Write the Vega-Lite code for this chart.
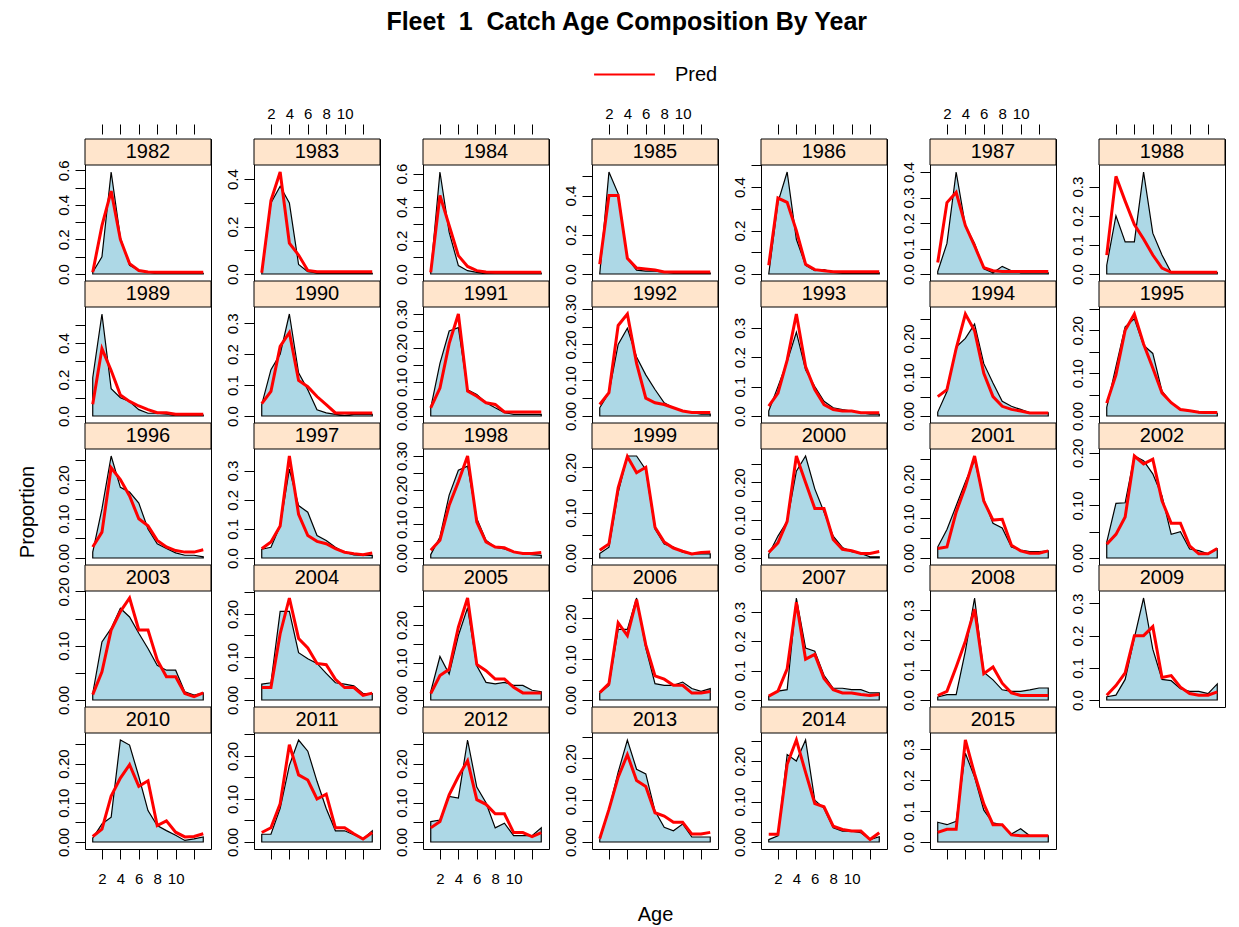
{
"$schema": "https://vega.github.io/schema/vega-lite/v6.json",
"padding": {"left": 17, "top": 10, "right": 5, "bottom": 1},
"background": "white",
"title": {"text": "Fleet\u00a0\u00a01\u00a0\u00a0Catch Age Composition By Year", "fontSize": 25, "fontWeight": "bold", "font": "Liberation Sans", "color": "black", "anchor": "middle", "offset": 8, "dx": 5},
"datasets": {"d": [
{"year":1982,"age":1,"obs":0.01,"pred":0.01},{"year":1982,"age":2,"obs":0.10,"pred":0.28},{"year":1982,"age":3,"obs":0.59,"pred":0.48},{"year":1982,"age":4,"obs":0.21,"pred":0.2},{"year":1982,"age":5,"obs":0.05,"pred":0.06},{"year":1982,"age":6,"obs":0.02,"pred":0.02},{"year":1982,"age":7,"obs":0.01,"pred":0.012},{"year":1982,"age":8,"obs":0.005,"pred":0.01},{"year":1982,"age":9,"obs":0.004,"pred":0.01},{"year":1982,"age":10,"obs":0.004,"pred":0.01},{"year":1982,"age":11,"obs":0.004,"pred":0.01},{"year":1982,"age":12,"obs":0.004,"pred":0.01},{"year":1982,"age":13,"obs":0.004,"pred":0.01},
{"year":1983,"age":1,"obs":0.0,"pred":0.005},{"year":1983,"age":2,"obs":0.30,"pred":0.31},{"year":1983,"age":3,"obs":0.37,"pred":0.43},{"year":1983,"age":4,"obs":0.30,"pred":0.13},{"year":1983,"age":5,"obs":0.04,"pred":0.08},{"year":1983,"age":6,"obs":0.01,"pred":0.015},{"year":1983,"age":7,"obs":0.005,"pred":0.01},{"year":1983,"age":8,"obs":0.003,"pred":0.01},{"year":1983,"age":9,"obs":0.003,"pred":0.01},{"year":1983,"age":10,"obs":0.003,"pred":0.01},{"year":1983,"age":11,"obs":0.003,"pred":0.01},{"year":1983,"age":12,"obs":0.003,"pred":0.01},{"year":1983,"age":13,"obs":0.003,"pred":0.01},
{"year":1984,"age":1,"obs":0.01,"pred":0.01},{"year":1984,"age":2,"obs":0.61,"pred":0.47},{"year":1984,"age":3,"obs":0.25,"pred":0.29},{"year":1984,"age":4,"obs":0.05,"pred":0.11},{"year":1984,"age":5,"obs":0.02,"pred":0.045},{"year":1984,"age":6,"obs":0.01,"pred":0.02},{"year":1984,"age":7,"obs":0.005,"pred":0.012},{"year":1984,"age":8,"obs":0.005,"pred":0.01},{"year":1984,"age":9,"obs":0.005,"pred":0.01},{"year":1984,"age":10,"obs":0.005,"pred":0.01},{"year":1984,"age":11,"obs":0.005,"pred":0.01},{"year":1984,"age":12,"obs":0.005,"pred":0.01},{"year":1984,"age":13,"obs":0.005,"pred":0.01},
{"year":1985,"age":1,"obs":0.0,"pred":0.05},{"year":1985,"age":2,"obs":0.52,"pred":0.40},{"year":1985,"age":3,"obs":0.41,"pred":0.40},{"year":1985,"age":4,"obs":0.08,"pred":0.08},{"year":1985,"age":5,"obs":0.02,"pred":0.03},{"year":1985,"age":6,"obs":0.015,"pred":0.025},{"year":1985,"age":7,"obs":0.015,"pred":0.02},{"year":1985,"age":8,"obs":0.01,"pred":0.01},{"year":1985,"age":9,"obs":0.005,"pred":0.01},{"year":1985,"age":10,"obs":0.005,"pred":0.01},{"year":1985,"age":11,"obs":0.005,"pred":0.01},{"year":1985,"age":12,"obs":0.005,"pred":0.01},{"year":1985,"age":13,"obs":0.005,"pred":0.01},
{"year":1986,"age":1,"obs":0.0,"pred":0.04},{"year":1986,"age":2,"obs":0.33,"pred":0.35},{"year":1986,"age":3,"obs":0.47,"pred":0.33},{"year":1986,"age":4,"obs":0.16,"pred":0.2},{"year":1986,"age":5,"obs":0.04,"pred":0.045},{"year":1986,"age":6,"obs":0.015,"pred":0.02},{"year":1986,"age":7,"obs":0.02,"pred":0.015},{"year":1986,"age":8,"obs":0.007,"pred":0.01},{"year":1986,"age":9,"obs":0.005,"pred":0.01},{"year":1986,"age":10,"obs":0.005,"pred":0.01},{"year":1986,"age":11,"obs":0.005,"pred":0.01},{"year":1986,"age":12,"obs":0.005,"pred":0.01},{"year":1986,"age":13,"obs":0.005,"pred":0.01},
{"year":1987,"age":1,"obs":0.01,"pred":0.045},{"year":1987,"age":2,"obs":0.12,"pred":0.28},{"year":1987,"age":3,"obs":0.40,"pred":0.32},{"year":1987,"age":4,"obs":0.19,"pred":0.19},{"year":1987,"age":5,"obs":0.12,"pred":0.11},{"year":1987,"age":6,"obs":0.02,"pred":0.025},{"year":1987,"age":7,"obs":0.005,"pred":0.013},{"year":1987,"age":8,"obs":0.03,"pred":0.01},{"year":1987,"age":9,"obs":0.013,"pred":0.01},{"year":1987,"age":10,"obs":0.005,"pred":0.01},{"year":1987,"age":11,"obs":0.005,"pred":0.01},{"year":1987,"age":12,"obs":0.005,"pred":0.01},{"year":1987,"age":13,"obs":0.005,"pred":0.01},
{"year":1988,"age":1,"obs":0.03,"pred":0.065},{"year":1988,"age":2,"obs":0.2,"pred":0.335},{"year":1988,"age":3,"obs":0.11,"pred":0.25},{"year":1988,"age":4,"obs":0.11,"pred":0.17},{"year":1988,"age":5,"obs":0.35,"pred":0.12},{"year":1988,"age":6,"obs":0.14,"pred":0.065},{"year":1988,"age":7,"obs":0.065,"pred":0.02},{"year":1988,"age":8,"obs":0.005,"pred":0.006},{"year":1988,"age":9,"obs":0.005,"pred":0.006},{"year":1988,"age":10,"obs":0.005,"pred":0.006},{"year":1988,"age":11,"obs":0.005,"pred":0.006},{"year":1988,"age":12,"obs":0.005,"pred":0.006},{"year":1988,"age":13,"obs":0.005,"pred":0.006},
{"year":1989,"age":1,"obs":0.21,"pred":0.065},{"year":1989,"age":2,"obs":0.56,"pred":0.37},{"year":1989,"age":3,"obs":0.15,"pred":0.25},{"year":1989,"age":4,"obs":0.1,"pred":0.115},{"year":1989,"age":5,"obs":0.08,"pred":0.08},{"year":1989,"age":6,"obs":0.035,"pred":0.055},{"year":1989,"age":7,"obs":0.015,"pred":0.035},{"year":1989,"age":8,"obs":0.015,"pred":0.018},{"year":1989,"age":9,"obs":0.01,"pred":0.018},{"year":1989,"age":10,"obs":0.005,"pred":0.01},{"year":1989,"age":11,"obs":0.005,"pred":0.01},{"year":1989,"age":12,"obs":0.005,"pred":0.01},{"year":1989,"age":13,"obs":0.005,"pred":0.01},
{"year":1990,"age":1,"obs":0.037,"pred":0.04},{"year":1990,"age":2,"obs":0.15,"pred":0.08},{"year":1990,"age":3,"obs":0.2,"pred":0.225},{"year":1990,"age":4,"obs":0.33,"pred":0.27},{"year":1990,"age":5,"obs":0.14,"pred":0.115},{"year":1990,"age":6,"obs":0.085,"pred":0.095},{"year":1990,"age":7,"obs":0.02,"pred":0.063},{"year":1990,"age":8,"obs":0.01,"pred":0.037},{"year":1990,"age":9,"obs":0.005,"pred":0.01},{"year":1990,"age":10,"obs":0.002,"pred":0.01},{"year":1990,"age":11,"obs":0.005,"pred":0.01},{"year":1990,"age":12,"obs":0.005,"pred":0.01},{"year":1990,"age":13,"obs":0.005,"pred":0.01},
{"year":1991,"age":1,"obs":0.024,"pred":0.024},{"year":1991,"age":2,"obs":0.155,"pred":0.082},{"year":1991,"age":3,"obs":0.25,"pred":0.213},{"year":1991,"age":4,"obs":0.26,"pred":0.30},{"year":1991,"age":5,"obs":0.077,"pred":0.073},{"year":1991,"age":6,"obs":0.063,"pred":0.058},{"year":1991,"age":7,"obs":0.039,"pred":0.039},{"year":1991,"age":8,"obs":0.024,"pred":0.034},{"year":1991,"age":9,"obs":0.01,"pred":0.012},{"year":1991,"age":10,"obs":0.005,"pred":0.012},{"year":1991,"age":11,"obs":0.005,"pred":0.012},{"year":1991,"age":12,"obs":0.005,"pred":0.012},{"year":1991,"age":13,"obs":0.005,"pred":0.012},
{"year":1992,"age":1,"obs":0.023,"pred":0.032},{"year":1992,"age":2,"obs":0.065,"pred":0.065},{"year":1992,"age":3,"obs":0.2,"pred":0.253},{"year":1992,"age":4,"obs":0.245,"pred":0.285},{"year":1992,"age":5,"obs":0.165,"pred":0.147},{"year":1992,"age":6,"obs":0.115,"pred":0.05},{"year":1992,"age":7,"obs":0.074,"pred":0.037},{"year":1992,"age":8,"obs":0.037,"pred":0.032},{"year":1992,"age":9,"obs":0.023,"pred":0.023},{"year":1992,"age":10,"obs":0.014,"pred":0.014},{"year":1992,"age":11,"obs":0.01,"pred":0.01},{"year":1992,"age":12,"obs":0.005,"pred":0.01},{"year":1992,"age":13,"obs":0.005,"pred":0.01},
{"year":1993,"age":1,"obs":0.017,"pred":0.034},{"year":1993,"age":2,"obs":0.1,"pred":0.078},{"year":1993,"age":3,"obs":0.185,"pred":0.19},{"year":1993,"age":4,"obs":0.285,"pred":0.347},{"year":1993,"age":5,"obs":0.157,"pred":0.168},{"year":1993,"age":6,"obs":0.1,"pred":0.09},{"year":1993,"age":7,"obs":0.05,"pred":0.039},{"year":1993,"age":8,"obs":0.028,"pred":0.022},{"year":1993,"age":9,"obs":0.022,"pred":0.017},{"year":1993,"age":10,"obs":0.017,"pred":0.017},{"year":1993,"age":11,"obs":0.011,"pred":0.011},{"year":1993,"age":12,"obs":0.006,"pred":0.011},{"year":1993,"age":13,"obs":0.006,"pred":0.011},
{"year":1994,"age":1,"obs":0.01,"pred":0.05},{"year":1994,"age":2,"obs":0.063,"pred":0.068},{"year":1994,"age":3,"obs":0.178,"pred":0.174},{"year":1994,"age":4,"obs":0.2,"pred":0.263},{"year":1994,"age":5,"obs":0.237,"pred":0.22},{"year":1994,"age":6,"obs":0.135,"pred":0.11},{"year":1994,"age":7,"obs":0.085,"pred":0.05},{"year":1994,"age":8,"obs":0.038,"pred":0.025},{"year":1994,"age":9,"obs":0.025,"pred":0.017},{"year":1994,"age":10,"obs":0.017,"pred":0.013},{"year":1994,"age":11,"obs":0.008,"pred":0.008},{"year":1994,"age":12,"obs":0.008,"pred":0.008},{"year":1994,"age":13,"obs":0.008,"pred":0.008},
{"year":1995,"age":1,"obs":0.02,"pred":0.03},{"year":1995,"age":2,"obs":0.115,"pred":0.096},{"year":1995,"age":3,"obs":0.208,"pred":0.2},{"year":1995,"age":4,"obs":0.227,"pred":0.238},{"year":1995,"age":5,"obs":0.165,"pred":0.168},{"year":1995,"age":6,"obs":0.146,"pred":0.112},{"year":1995,"age":7,"obs":0.058,"pred":0.054},{"year":1995,"age":8,"obs":0.031,"pred":0.031},{"year":1995,"age":9,"obs":0.015,"pred":0.015},{"year":1995,"age":10,"obs":0.012,"pred":0.012},{"year":1995,"age":11,"obs":0.008,"pred":0.009},{"year":1995,"age":12,"obs":0.006,"pred":0.008},{"year":1995,"age":13,"obs":0.006,"pred":0.008},
{"year":1996,"age":1,"obs":0.015,"pred":0.028},{"year":1996,"age":2,"obs":0.125,"pred":0.066},{"year":1996,"age":3,"obs":0.26,"pred":0.23},{"year":1996,"age":4,"obs":0.18,"pred":0.2},{"year":1996,"age":5,"obs":0.168,"pred":0.158},{"year":1996,"age":6,"obs":0.14,"pred":0.1},{"year":1996,"age":7,"obs":0.074,"pred":0.082},{"year":1996,"age":8,"obs":0.036,"pred":0.045},{"year":1996,"age":9,"obs":0.024,"pred":0.028},{"year":1996,"age":10,"obs":0.013,"pred":0.019},{"year":1996,"age":11,"obs":0.007,"pred":0.015},{"year":1996,"age":12,"obs":0.007,"pred":0.015},{"year":1996,"age":13,"obs":0.003,"pred":0.021},
{"year":1997,"age":1,"obs":0.03,"pred":0.032},{"year":1997,"age":2,"obs":0.037,"pred":0.055},{"year":1997,"age":3,"obs":0.11,"pred":0.11},{"year":1997,"age":4,"obs":0.305,"pred":0.35},{"year":1997,"age":5,"obs":0.18,"pred":0.15},{"year":1997,"age":6,"obs":0.157,"pred":0.077},{"year":1997,"age":7,"obs":0.077,"pred":0.057},{"year":1997,"age":8,"obs":0.06,"pred":0.049},{"year":1997,"age":9,"obs":0.037,"pred":0.032},{"year":1997,"age":10,"obs":0.02,"pred":0.02},{"year":1997,"age":11,"obs":0.011,"pred":0.015},{"year":1997,"age":12,"obs":0.009,"pred":0.011},{"year":1997,"age":13,"obs":0.009,"pred":0.017},
{"year":1998,"age":1,"obs":0.01,"pred":0.023},{"year":1998,"age":2,"obs":0.062,"pred":0.052},{"year":1998,"age":3,"obs":0.185,"pred":0.155},{"year":1998,"age":4,"obs":0.258,"pred":0.224},{"year":1998,"age":5,"obs":0.27,"pred":0.3},{"year":1998,"age":6,"obs":0.116,"pred":0.106},{"year":1998,"age":7,"obs":0.052,"pred":0.047},{"year":1998,"age":8,"obs":0.032,"pred":0.032},{"year":1998,"age":9,"obs":0.027,"pred":0.03},{"year":1998,"age":10,"obs":0.018,"pred":0.018},{"year":1998,"age":11,"obs":0.013,"pred":0.013},{"year":1998,"age":12,"obs":0.01,"pred":0.013},{"year":1998,"age":13,"obs":0.008,"pred":0.016},
{"year":1999,"age":1,"obs":0.01,"pred":0.017},{"year":1999,"age":2,"obs":0.024,"pred":0.031},{"year":1999,"age":3,"obs":0.144,"pred":0.155},{"year":1999,"age":4,"obs":0.225,"pred":0.224},{"year":1999,"age":5,"obs":0.225,"pred":0.188},{"year":1999,"age":6,"obs":0.195,"pred":0.2},{"year":1999,"age":7,"obs":0.064,"pred":0.068},{"year":1999,"age":8,"obs":0.031,"pred":0.035},{"year":1999,"age":9,"obs":0.024,"pred":0.022},{"year":1999,"age":10,"obs":0.013,"pred":0.015},{"year":1999,"age":11,"obs":0.009,"pred":0.009},{"year":1999,"age":12,"obs":0.009,"pred":0.012},{"year":1999,"age":13,"obs":0.009,"pred":0.013},
{"year":2000,"age":1,"obs":0.01,"pred":0.015},{"year":2000,"age":2,"obs":0.058,"pred":0.04},{"year":2000,"age":3,"obs":0.097,"pred":0.097},{"year":2000,"age":4,"obs":0.23,"pred":0.27},{"year":2000,"age":5,"obs":0.27,"pred":0.2},{"year":2000,"age":6,"obs":0.183,"pred":0.131},{"year":2000,"age":7,"obs":0.122,"pred":0.131},{"year":2000,"age":8,"obs":0.058,"pred":0.049},{"year":2000,"age":9,"obs":0.028,"pred":0.023},{"year":2000,"age":10,"obs":0.017,"pred":0.019},{"year":2000,"age":11,"obs":0.012,"pred":0.012},{"year":2000,"age":12,"obs":0.003,"pred":0.012},{"year":2000,"age":13,"obs":0.003,"pred":0.017},
{"year":2001,"age":1,"obs":0.028,"pred":0.024},{"year":2001,"age":2,"obs":0.072,"pred":0.028},{"year":2001,"age":3,"obs":0.132,"pred":0.116},{"year":2001,"age":4,"obs":0.192,"pred":0.18},{"year":2001,"age":5,"obs":0.248,"pred":0.258},{"year":2001,"age":6,"obs":0.148,"pred":0.144},{"year":2001,"age":7,"obs":0.088,"pred":0.096},{"year":2001,"age":8,"obs":0.076,"pred":0.098},{"year":2001,"age":9,"obs":0.028,"pred":0.032},{"year":2001,"age":10,"obs":0.02,"pred":0.018},{"year":2001,"age":11,"obs":0.016,"pred":0.012},{"year":2001,"age":12,"obs":0.016,"pred":0.012},{"year":2001,"age":13,"obs":0.018,"pred":0.018},
{"year":2002,"age":1,"obs":0.03,"pred":0.026},{"year":2002,"age":2,"obs":0.104,"pred":0.045},{"year":2002,"age":3,"obs":0.105,"pred":0.078},{"year":2002,"age":4,"obs":0.194,"pred":0.194},{"year":2002,"age":5,"obs":0.185,"pred":0.179},{"year":2002,"age":6,"obs":0.16,"pred":0.188},{"year":2002,"age":7,"obs":0.118,"pred":0.109},{"year":2002,"age":8,"obs":0.045,"pred":0.066},{"year":2002,"age":9,"obs":0.05,"pred":0.066},{"year":2002,"age":10,"obs":0.017,"pred":0.023},{"year":2002,"age":11,"obs":0.014,"pred":0.008},{"year":2002,"age":12,"obs":0.008,"pred":0.008},{"year":2002,"age":13,"obs":0.017,"pred":0.018},
{"year":2003,"age":1,"obs":0.012,"pred":0.01},{"year":2003,"age":2,"obs":0.107,"pred":0.052},{"year":2003,"age":3,"obs":0.132,"pred":0.129},{"year":2003,"age":4,"obs":0.169,"pred":0.163},{"year":2003,"age":5,"obs":0.153,"pred":0.188},{"year":2003,"age":6,"obs":0.123,"pred":0.129},{"year":2003,"age":7,"obs":0.095,"pred":0.129},{"year":2003,"age":8,"obs":0.064,"pred":0.074},{"year":2003,"age":9,"obs":0.055,"pred":0.043},{"year":2003,"age":10,"obs":0.055,"pred":0.043},{"year":2003,"age":11,"obs":0.015,"pred":0.012},{"year":2003,"age":12,"obs":0.009,"pred":0.006},{"year":2003,"age":13,"obs":0.013,"pred":0.013},
{"year":2004,"age":1,"obs":0.037,"pred":0.029},{"year":2004,"age":2,"obs":0.04,"pred":0.029},{"year":2004,"age":3,"obs":0.206,"pred":0.154},{"year":2004,"age":4,"obs":0.206,"pred":0.237},{"year":2004,"age":5,"obs":0.11,"pred":0.143},{"year":2004,"age":6,"obs":0.096,"pred":0.121},{"year":2004,"age":7,"obs":0.085,"pred":0.085},{"year":2004,"age":8,"obs":0.062,"pred":0.082},{"year":2004,"age":9,"obs":0.04,"pred":0.048},{"year":2004,"age":10,"obs":0.037,"pred":0.029},{"year":2004,"age":11,"obs":0.033,"pred":0.029},{"year":2004,"age":12,"obs":0.015,"pred":0.011},{"year":2004,"age":13,"obs":0.015,"pred":0.016},
{"year":2005,"age":1,"obs":0.022,"pred":0.017},{"year":2005,"age":2,"obs":0.116,"pred":0.065},{"year":2005,"age":3,"obs":0.069,"pred":0.082},{"year":2005,"age":4,"obs":0.172,"pred":0.194},{"year":2005,"age":5,"obs":0.246,"pred":0.272},{"year":2005,"age":6,"obs":0.091,"pred":0.095},{"year":2005,"age":7,"obs":0.047,"pred":0.078},{"year":2005,"age":8,"obs":0.043,"pred":0.056},{"year":2005,"age":9,"obs":0.047,"pred":0.056},{"year":2005,"age":10,"obs":0.039,"pred":0.034},{"year":2005,"age":11,"obs":0.039,"pred":0.019},{"year":2005,"age":12,"obs":0.026,"pred":0.019},{"year":2005,"age":13,"obs":0.022,"pred":0.019},
{"year":2006,"age":1,"obs":0.017,"pred":0.018},{"year":2006,"age":2,"obs":0.036,"pred":0.04},{"year":2006,"age":3,"obs":0.173,"pred":0.189},{"year":2006,"age":4,"obs":0.173,"pred":0.158},{"year":2006,"age":5,"obs":0.25,"pred":0.246},{"year":2006,"age":6,"obs":0.127,"pred":0.135},{"year":2006,"age":7,"obs":0.04,"pred":0.059},{"year":2006,"age":8,"obs":0.036,"pred":0.051},{"year":2006,"age":9,"obs":0.036,"pred":0.036},{"year":2006,"age":10,"obs":0.044,"pred":0.036},{"year":2006,"age":11,"obs":0.028,"pred":0.017},{"year":2006,"age":12,"obs":0.021,"pred":0.017},{"year":2006,"age":13,"obs":0.028,"pred":0.021},
{"year":2007,"age":1,"obs":0.013,"pred":0.013},{"year":2007,"age":2,"obs":0.03,"pred":0.03},{"year":2007,"age":3,"obs":0.035,"pred":0.106},{"year":2007,"age":4,"obs":0.347,"pred":0.333},{"year":2007,"age":5,"obs":0.177,"pred":0.139},{"year":2007,"age":6,"obs":0.166,"pred":0.155},{"year":2007,"age":7,"obs":0.084,"pred":0.073},{"year":2007,"age":8,"obs":0.04,"pred":0.035},{"year":2007,"age":9,"obs":0.04,"pred":0.024},{"year":2007,"age":10,"obs":0.035,"pred":0.024},{"year":2007,"age":11,"obs":0.035,"pred":0.019},{"year":2007,"age":12,"obs":0.024,"pred":0.015},{"year":2007,"age":13,"obs":0.024,"pred":0.019},
{"year":2008,"age":1,"obs":0.01,"pred":0.015},{"year":2008,"age":2,"obs":0.018,"pred":0.029},{"year":2008,"age":3,"obs":0.018,"pred":0.11},{"year":2008,"age":4,"obs":0.163,"pred":0.196},{"year":2008,"age":5,"obs":0.34,"pred":0.303},{"year":2008,"age":6,"obs":0.093,"pred":0.088},{"year":2008,"age":7,"obs":0.067,"pred":0.11},{"year":2008,"age":8,"obs":0.034,"pred":0.056},{"year":2008,"age":9,"obs":0.029,"pred":0.024},{"year":2008,"age":10,"obs":0.029,"pred":0.015},{"year":2008,"age":11,"obs":0.034,"pred":0.015},{"year":2008,"age":12,"obs":0.04,"pred":0.015},{"year":2008,"age":13,"obs":0.04,"pred":0.015},
{"year":2009,"age":1,"obs":0.01,"pred":0.015},{"year":2009,"age":2,"obs":0.015,"pred":0.045},{"year":2009,"age":3,"obs":0.064,"pred":0.084},{"year":2009,"age":4,"obs":0.193,"pred":0.2},{"year":2009,"age":5,"obs":0.317,"pred":0.2},{"year":2009,"age":6,"obs":0.158,"pred":0.228},{"year":2009,"age":7,"obs":0.064,"pred":0.07},{"year":2009,"age":8,"obs":0.06,"pred":0.076},{"year":2009,"age":9,"obs":0.035,"pred":0.04},{"year":2009,"age":10,"obs":0.027,"pred":0.02},{"year":2009,"age":11,"obs":0.027,"pred":0.015},{"year":2009,"age":12,"obs":0.02,"pred":0.015},{"year":2009,"age":13,"obs":0.05,"pred":0.025},
{"year":2010,"age":1,"obs":0.01,"pred":0.014},{"year":2010,"age":2,"obs":0.046,"pred":0.033},{"year":2010,"age":3,"obs":0.063,"pred":0.117},{"year":2010,"age":4,"obs":0.26,"pred":0.163},{"year":2010,"age":5,"obs":0.247,"pred":0.197},{"year":2010,"age":6,"obs":0.167,"pred":0.142},{"year":2010,"age":7,"obs":0.08,"pred":0.156},{"year":2010,"age":8,"obs":0.042,"pred":0.042},{"year":2010,"age":9,"obs":0.029,"pred":0.054},{"year":2010,"age":10,"obs":0.017,"pred":0.025},{"year":2010,"age":11,"obs":0.004,"pred":0.013},{"year":2010,"age":12,"obs":0.008,"pred":0.014},{"year":2010,"age":13,"obs":0.013,"pred":0.021},
{"year":2011,"age":1,"obs":0.018,"pred":0.022},{"year":2011,"age":2,"obs":0.018,"pred":0.033},{"year":2011,"age":3,"obs":0.078,"pred":0.089},{"year":2011,"age":4,"obs":0.178,"pred":0.226},{"year":2011,"age":5,"obs":0.237,"pred":0.156},{"year":2011,"age":6,"obs":0.211,"pred":0.144},{"year":2011,"age":7,"obs":0.141,"pred":0.1},{"year":2011,"age":8,"obs":0.078,"pred":0.111},{"year":2011,"age":9,"obs":0.026,"pred":0.033},{"year":2011,"age":10,"obs":0.026,"pred":0.033},{"year":2011,"age":11,"obs":0.017,"pred":0.019},{"year":2011,"age":12,"obs":0.007,"pred":0.007},{"year":2011,"age":13,"obs":0.026,"pred":0.022},
{"year":2012,"age":1,"obs":0.052,"pred":0.036},{"year":2012,"age":2,"obs":0.056,"pred":0.052},{"year":2012,"age":3,"obs":0.116,"pred":0.12},{"year":2012,"age":4,"obs":0.112,"pred":0.167},{"year":2012,"age":5,"obs":0.26,"pred":0.207},{"year":2012,"age":6,"obs":0.14,"pred":0.108},{"year":2012,"age":7,"obs":0.1,"pred":0.096},{"year":2012,"age":8,"obs":0.036,"pred":0.072},{"year":2012,"age":9,"obs":0.048,"pred":0.072},{"year":2012,"age":10,"obs":0.016,"pred":0.024},{"year":2012,"age":11,"obs":0.016,"pred":0.024},{"year":2012,"age":12,"obs":0.016,"pred":0.014},{"year":2012,"age":13,"obs":0.036,"pred":0.024},
{"year":2013,"age":1,"obs":0.005,"pred":0.008},{"year":2013,"age":2,"obs":0.078,"pred":0.078},{"year":2013,"age":3,"obs":0.167,"pred":0.155},{"year":2013,"age":4,"obs":0.244,"pred":0.209},{"year":2013,"age":5,"obs":0.174,"pred":0.147},{"year":2013,"age":6,"obs":0.163,"pred":0.133},{"year":2013,"age":7,"obs":0.074,"pred":0.07},{"year":2013,"age":8,"obs":0.035,"pred":0.062},{"year":2013,"age":9,"obs":0.027,"pred":0.047},{"year":2013,"age":10,"obs":0.043,"pred":0.047},{"year":2013,"age":11,"obs":0.012,"pred":0.019},{"year":2013,"age":12,"obs":0.012,"pred":0.019},{"year":2013,"age":13,"obs":0.012,"pred":0.023},
{"year":2014,"age":1,"obs":0.006,"pred":0.019},{"year":2014,"age":2,"obs":0.015,"pred":0.019},{"year":2014,"age":3,"obs":0.216,"pred":0.192},{"year":2014,"age":4,"obs":0.2,"pred":0.252},{"year":2014,"age":5,"obs":0.252,"pred":0.172},{"year":2014,"age":6,"obs":0.103,"pred":0.095},{"year":2014,"age":7,"obs":0.083,"pred":0.087},{"year":2014,"age":8,"obs":0.035,"pred":0.039},{"year":2014,"age":9,"obs":0.027,"pred":0.031},{"year":2014,"age":10,"obs":0.027,"pred":0.027},{"year":2014,"age":11,"obs":0.023,"pred":0.027},{"year":2014,"age":12,"obs":0.006,"pred":0.006},{"year":2014,"age":13,"obs":0.013,"pred":0.023},
{"year":2015,"age":1,"obs":0.064,"pred":0.031},{"year":2015,"age":2,"obs":0.056,"pred":0.041},{"year":2015,"age":3,"obs":0.067,"pred":0.041},{"year":2015,"age":4,"obs":0.287,"pred":0.33},{"year":2015,"age":5,"obs":0.21,"pred":0.22},{"year":2015,"age":6,"obs":0.103,"pred":0.123},{"year":2015,"age":7,"obs":0.062,"pred":0.056},{"year":2015,"age":8,"obs":0.056,"pred":0.056},{"year":2015,"age":9,"obs":0.026,"pred":0.023},{"year":2015,"age":10,"obs":0.043,"pred":0.02},{"year":2015,"age":11,"obs":0.02,"pred":0.02},{"year":2015,"age":12,"obs":0.02,"pred":0.02},{"year":2015,"age":13,"obs":0.02,"pred":0.02}
]},
"spacing": 12,
"hconcat": [
{"spacing": 0, "vconcat": [
 {"data": {"name": "d"}, "transform": [{"filter": "datum.year == 1982"}], "width": 126, "height": 1, "view": {"stroke": null}, "mark": {"type": "point", "opacity": 0}, "encoding": {"x": {"field": "age", "type": "quantitative", "scale": {"domain": [0.16, 13.84], "nice": false, "zero": false}, "axis": {"orient": "top", "values": [2,4,6,8,10,12], "tickCount": 20, "format": "d", "labels": false, "title": null}}}},
 {"data": {"name": "d"}, "transform": [{"filter": {"field": "year", "oneOf": [1982, 1989, 1996, 2003, 2010]}}], "bounds": "flush", "spacing": 0,
  "title": {"text": "Proportion", "orient": "left", "fontSize": 20, "fontWeight": "normal", "font": "Liberation Sans", "color": "black", "offset": 18, "anchor": "middle"},
  "facet": {"row": {"field": "year", "type": "ordinal", "header": null}}, "resolve": {"scale": {"y": "independent"}},
  "spec": {"width": 126, "height": 142, "resolve": {"scale": {"y": "independent"}, "axis": {"x": "independent"}}, "layer": [
   {"transform": [{"filter": "datum.age == 1"}], "layer": [
    {"mark": {"type": "rect", "fill": "#ffe5cc", "stroke": "black", "strokeWidth": 1}, "encoding": {"x": {"datum": 0.16, "type": "quantitative", "scale": {"domain": [0.16, 13.84], "nice": false, "zero": false}, "axis": null}, "x2": {"datum": 13.84}, "y": {"datum": 0, "type": "quantitative", "scale": {"domain": [0, 1], "range": [26, 0]}, "axis": null}, "y2": {"datum": 1}}},
    {"mark": {"type": "text", "fontSize": 20, "color": "black"}, "encoding": {"x": {"datum": 7, "type": "quantitative", "axis": null}, "y": {"datum": 0.5, "type": "quantitative", "axis": null}, "text": {"field": "year", "type": "nominal"}}}]},
   {"layer": [
    {"mark": {"type": "area", "fill": "#add8e6", "stroke": "black", "strokeWidth": 1.2}, "encoding": {"x": {"field": "age", "type": "quantitative", "scale": {"domain": [0.16, 13.84], "nice": false, "zero": false}, "axis": {"orient": "bottom", "values": [2,4,6,8,10,12], "tickCount": 20, "format": "d", "labelPadding": 12, "labelExpr": "datum.value == 12 ? '' : datum.label", "title": null}}, "y": {"field": "obs", "type": "quantitative", "scale": {"zero": false, "nice": false, "padding": 7, "range": [142, 26]}, "axis": {"title": null}}}},
    {"mark": {"type": "line", "strokeWidth": 3}, "encoding": {"x": {"field": "age", "type": "quantitative"}, "y": {"field": "pred", "type": "quantitative"}, "color": {"datum": "Pred", "type": "nominal", "scale": {"range": ["red"]}, "legend": {"orient": "none", "legendX": 508, "legendY": -91, "title": null}}}}]}
  ]}}
]},
{"spacing": 0, "vconcat": [
 {"data": {"name": "d"}, "transform": [{"filter": "datum.year == 1983"}], "width": 126, "height": 1, "view": {"stroke": null}, "mark": {"type": "point", "opacity": 0}, "encoding": {"x": {"field": "age", "type": "quantitative", "scale": {"domain": [0.16, 13.84], "nice": false, "zero": false}, "axis": {"orient": "top", "values": [2,4,6,8,10,12], "tickCount": 20, "format": "d", "labelPadding": 3, "labelExpr": "datum.value == 12 ? '' : datum.label", "title": null}}}},
 {"data": {"name": "d"}, "transform": [{"filter": {"field": "year", "oneOf": [1983, 1990, 1997, 2004, 2011]}}], "bounds": "flush", "spacing": 0,
  "facet": {"row": {"field": "year", "type": "ordinal", "header": null}}, "resolve": {"scale": {"y": "independent"}},
  "spec": {"width": 126, "height": 142, "resolve": {"scale": {"y": "independent"}, "axis": {"x": "independent"}}, "layer": [
   {"transform": [{"filter": "datum.age == 1"}], "layer": [
    {"mark": {"type": "rect", "fill": "#ffe5cc", "stroke": "black", "strokeWidth": 1}, "encoding": {"x": {"datum": 0.16, "type": "quantitative", "scale": {"domain": [0.16, 13.84], "nice": false, "zero": false}, "axis": null}, "x2": {"datum": 13.84}, "y": {"datum": 0, "type": "quantitative", "scale": {"domain": [0, 1], "range": [26, 0]}, "axis": null}, "y2": {"datum": 1}}},
    {"mark": {"type": "text", "fontSize": 20, "color": "black"}, "encoding": {"x": {"datum": 7, "type": "quantitative", "axis": null}, "y": {"datum": 0.5, "type": "quantitative", "axis": null}, "text": {"field": "year", "type": "nominal"}}}]},
   {"layer": [
    {"mark": {"type": "area", "fill": "#add8e6", "stroke": "black", "strokeWidth": 1.2}, "encoding": {"x": {"field": "age", "type": "quantitative", "scale": {"domain": [0.16, 13.84], "nice": false, "zero": false}, "axis": {"orient": "bottom", "values": [2,4,6,8,10,12], "tickCount": 20, "format": "d", "labels": false, "title": null}}, "y": {"field": "obs", "type": "quantitative", "scale": {"zero": false, "nice": false, "padding": 7, "range": [142, 26]}, "axis": {"title": null}}}},
    {"mark": {"type": "line", "strokeWidth": 3, "color": "red"}, "encoding": {"x": {"field": "age", "type": "quantitative"}, "y": {"field": "pred", "type": "quantitative"}}}]}
  ]}}
]},
{"spacing": 0, "vconcat": [
 {"data": {"name": "d"}, "transform": [{"filter": "datum.year == 1984"}], "width": 126, "height": 1, "view": {"stroke": null}, "mark": {"type": "point", "opacity": 0}, "encoding": {"x": {"field": "age", "type": "quantitative", "scale": {"domain": [0.16, 13.84], "nice": false, "zero": false}, "axis": {"orient": "top", "values": [2,4,6,8,10,12], "tickCount": 20, "format": "d", "labels": false, "title": null}}}},
 {"data": {"name": "d"}, "transform": [{"filter": {"field": "year", "oneOf": [1984, 1991, 1998, 2005, 2012]}}], "bounds": "flush", "spacing": 0,
  "facet": {"row": {"field": "year", "type": "ordinal", "header": null}}, "resolve": {"scale": {"y": "independent"}},
  "spec": {"width": 126, "height": 142, "resolve": {"scale": {"y": "independent"}, "axis": {"x": "independent"}}, "layer": [
   {"transform": [{"filter": "datum.age == 1"}], "layer": [
    {"mark": {"type": "rect", "fill": "#ffe5cc", "stroke": "black", "strokeWidth": 1}, "encoding": {"x": {"datum": 0.16, "type": "quantitative", "scale": {"domain": [0.16, 13.84], "nice": false, "zero": false}, "axis": null}, "x2": {"datum": 13.84}, "y": {"datum": 0, "type": "quantitative", "scale": {"domain": [0, 1], "range": [26, 0]}, "axis": null}, "y2": {"datum": 1}}},
    {"mark": {"type": "text", "fontSize": 20, "color": "black"}, "encoding": {"x": {"datum": 7, "type": "quantitative", "axis": null}, "y": {"datum": 0.5, "type": "quantitative", "axis": null}, "text": {"field": "year", "type": "nominal"}}}]},
   {"layer": [
    {"mark": {"type": "area", "fill": "#add8e6", "stroke": "black", "strokeWidth": 1.2}, "encoding": {"x": {"field": "age", "type": "quantitative", "scale": {"domain": [0.16, 13.84], "nice": false, "zero": false}, "axis": {"orient": "bottom", "values": [2,4,6,8,10,12], "tickCount": 20, "format": "d", "labelPadding": 12, "labelExpr": "datum.value == 12 ? '' : datum.label", "title": null}}, "y": {"field": "obs", "type": "quantitative", "scale": {"zero": false, "nice": false, "padding": 7, "range": [142, 26]}, "axis": {"title": null}}}},
    {"mark": {"type": "line", "strokeWidth": 3, "color": "red"}, "encoding": {"x": {"field": "age", "type": "quantitative"}, "y": {"field": "pred", "type": "quantitative"}}}]}
  ]}}
]},
{"spacing": 0, "vconcat": [
 {"data": {"name": "d"}, "transform": [{"filter": "datum.year == 1985"}], "width": 126, "height": 1, "view": {"stroke": null}, "mark": {"type": "point", "opacity": 0}, "encoding": {"x": {"field": "age", "type": "quantitative", "scale": {"domain": [0.16, 13.84], "nice": false, "zero": false}, "axis": {"orient": "top", "values": [2,4,6,8,10,12], "tickCount": 20, "format": "d", "labelPadding": 3, "labelExpr": "datum.value == 12 ? '' : datum.label", "title": null}}}},
 {"data": {"name": "d"}, "transform": [{"filter": {"field": "year", "oneOf": [1985, 1992, 1999, 2006, 2013]}}], "bounds": "flush", "spacing": 0,
  "facet": {"row": {"field": "year", "type": "ordinal", "header": null}}, "resolve": {"scale": {"y": "independent"}},
  "spec": {"width": 126, "height": 142, "resolve": {"scale": {"y": "independent"}, "axis": {"x": "independent"}}, "layer": [
   {"transform": [{"filter": "datum.age == 1"}], "layer": [
    {"mark": {"type": "rect", "fill": "#ffe5cc", "stroke": "black", "strokeWidth": 1}, "encoding": {"x": {"datum": 0.16, "type": "quantitative", "scale": {"domain": [0.16, 13.84], "nice": false, "zero": false}, "axis": null}, "x2": {"datum": 13.84}, "y": {"datum": 0, "type": "quantitative", "scale": {"domain": [0, 1], "range": [26, 0]}, "axis": null}, "y2": {"datum": 1}}},
    {"mark": {"type": "text", "fontSize": 20, "color": "black"}, "encoding": {"x": {"datum": 7, "type": "quantitative", "axis": null}, "y": {"datum": 0.5, "type": "quantitative", "axis": null}, "text": {"field": "year", "type": "nominal"}}}]},
   {"layer": [
    {"mark": {"type": "area", "fill": "#add8e6", "stroke": "black", "strokeWidth": 1.2}, "encoding": {"x": {"field": "age", "type": "quantitative", "scale": {"domain": [0.16, 13.84], "nice": false, "zero": false}, "axis": {"orient": "bottom", "values": [2,4,6,8,10,12], "tickCount": 20, "format": "d", "labelPadding": 12, "labelExpr": "' '", "title": "Age", "titlePadding": 18}}, "y": {"field": "obs", "type": "quantitative", "scale": {"zero": false, "nice": false, "padding": 7, "range": [142, 26]}, "axis": {"title": null}}}},
    {"mark": {"type": "line", "strokeWidth": 3, "color": "red"}, "encoding": {"x": {"field": "age", "type": "quantitative"}, "y": {"field": "pred", "type": "quantitative"}}}]}
  ]}}
]},
{"spacing": 0, "vconcat": [
 {"data": {"name": "d"}, "transform": [{"filter": "datum.year == 1986"}], "width": 126, "height": 1, "view": {"stroke": null}, "mark": {"type": "point", "opacity": 0}, "encoding": {"x": {"field": "age", "type": "quantitative", "scale": {"domain": [0.16, 13.84], "nice": false, "zero": false}, "axis": {"orient": "top", "values": [2,4,6,8,10,12], "tickCount": 20, "format": "d", "labels": false, "title": null}}}},
 {"data": {"name": "d"}, "transform": [{"filter": {"field": "year", "oneOf": [1986, 1993, 2000, 2007, 2014]}}], "bounds": "flush", "spacing": 0,
  "facet": {"row": {"field": "year", "type": "ordinal", "header": null}}, "resolve": {"scale": {"y": "independent"}},
  "spec": {"width": 126, "height": 142, "resolve": {"scale": {"y": "independent"}, "axis": {"x": "independent"}}, "layer": [
   {"transform": [{"filter": "datum.age == 1"}], "layer": [
    {"mark": {"type": "rect", "fill": "#ffe5cc", "stroke": "black", "strokeWidth": 1}, "encoding": {"x": {"datum": 0.16, "type": "quantitative", "scale": {"domain": [0.16, 13.84], "nice": false, "zero": false}, "axis": null}, "x2": {"datum": 13.84}, "y": {"datum": 0, "type": "quantitative", "scale": {"domain": [0, 1], "range": [26, 0]}, "axis": null}, "y2": {"datum": 1}}},
    {"mark": {"type": "text", "fontSize": 20, "color": "black"}, "encoding": {"x": {"datum": 7, "type": "quantitative", "axis": null}, "y": {"datum": 0.5, "type": "quantitative", "axis": null}, "text": {"field": "year", "type": "nominal"}}}]},
   {"layer": [
    {"mark": {"type": "area", "fill": "#add8e6", "stroke": "black", "strokeWidth": 1.2}, "encoding": {"x": {"field": "age", "type": "quantitative", "scale": {"domain": [0.16, 13.84], "nice": false, "zero": false}, "axis": {"orient": "bottom", "values": [2,4,6,8,10,12], "tickCount": 20, "format": "d", "labelPadding": 12, "labelExpr": "datum.value == 12 ? '' : datum.label", "title": null}}, "y": {"field": "obs", "type": "quantitative", "scale": {"zero": false, "nice": false, "padding": 7, "range": [142, 26]}, "axis": {"title": null}}}},
    {"mark": {"type": "line", "strokeWidth": 3, "color": "red"}, "encoding": {"x": {"field": "age", "type": "quantitative"}, "y": {"field": "pred", "type": "quantitative"}}}]}
  ]}}
]},
{"spacing": 0, "vconcat": [
 {"data": {"name": "d"}, "transform": [{"filter": "datum.year == 1987"}], "width": 126, "height": 1, "view": {"stroke": null}, "mark": {"type": "point", "opacity": 0}, "encoding": {"x": {"field": "age", "type": "quantitative", "scale": {"domain": [0.16, 13.84], "nice": false, "zero": false}, "axis": {"orient": "top", "values": [2,4,6,8,10,12], "tickCount": 20, "format": "d", "labelPadding": 3, "labelExpr": "datum.value == 12 ? '' : datum.label", "title": null}}}},
 {"data": {"name": "d"}, "transform": [{"filter": {"field": "year", "oneOf": [1987, 1994, 2001, 2008, 2015]}}], "bounds": "flush", "spacing": 0,
  "facet": {"row": {"field": "year", "type": "ordinal", "header": null}}, "resolve": {"scale": {"y": "independent"}},
  "spec": {"width": 126, "height": 142, "resolve": {"scale": {"y": "independent"}, "axis": {"x": "independent"}}, "layer": [
   {"transform": [{"filter": "datum.age == 1"}], "layer": [
    {"mark": {"type": "rect", "fill": "#ffe5cc", "stroke": "black", "strokeWidth": 1}, "encoding": {"x": {"datum": 0.16, "type": "quantitative", "scale": {"domain": [0.16, 13.84], "nice": false, "zero": false}, "axis": null}, "x2": {"datum": 13.84}, "y": {"datum": 0, "type": "quantitative", "scale": {"domain": [0, 1], "range": [26, 0]}, "axis": null}, "y2": {"datum": 1}}},
    {"mark": {"type": "text", "fontSize": 20, "color": "black"}, "encoding": {"x": {"datum": 7, "type": "quantitative", "axis": null}, "y": {"datum": 0.5, "type": "quantitative", "axis": null}, "text": {"field": "year", "type": "nominal"}}}]},
   {"layer": [
    {"mark": {"type": "area", "fill": "#add8e6", "stroke": "black", "strokeWidth": 1.2}, "encoding": {"x": {"field": "age", "type": "quantitative", "scale": {"domain": [0.16, 13.84], "nice": false, "zero": false}, "axis": {"orient": "bottom", "values": [2,4,6,8,10,12], "tickCount": 20, "format": "d", "labels": false, "title": null}}, "y": {"field": "obs", "type": "quantitative", "scale": {"zero": false, "nice": false, "padding": 7, "range": [142, 26]}, "axis": {"title": null}}}},
    {"mark": {"type": "line", "strokeWidth": 3, "color": "red"}, "encoding": {"x": {"field": "age", "type": "quantitative"}, "y": {"field": "pred", "type": "quantitative"}}}]}
  ]}}
]},
{"spacing": 0, "vconcat": [
 {"data": {"name": "d"}, "transform": [{"filter": "datum.year == 1988"}], "width": 126, "height": 1, "view": {"stroke": null}, "mark": {"type": "point", "opacity": 0}, "encoding": {"x": {"field": "age", "type": "quantitative", "scale": {"domain": [0.16, 13.84], "nice": false, "zero": false}, "axis": {"orient": "top", "values": [2,4,6,8,10,12], "tickCount": 20, "format": "d", "labels": false, "title": null}}}},
 {"data": {"name": "d"}, "transform": [{"filter": {"field": "year", "oneOf": [1988, 1995, 2002, 2009]}}], "bounds": "flush", "spacing": 0,
  "facet": {"row": {"field": "year", "type": "ordinal", "header": null}}, "resolve": {"scale": {"y": "independent"}},
  "spec": {"width": 126, "height": 142, "resolve": {"scale": {"y": "independent"}}, "layer": [
   {"transform": [{"filter": "datum.age == 1"}], "layer": [
    {"mark": {"type": "rect", "fill": "#ffe5cc", "stroke": "black", "strokeWidth": 1}, "encoding": {"x": {"datum": 0.16, "type": "quantitative", "scale": {"domain": [0.16, 13.84], "nice": false, "zero": false}, "axis": null}, "x2": {"datum": 13.84}, "y": {"datum": 0, "type": "quantitative", "scale": {"domain": [0, 1], "range": [26, 0]}, "axis": null}, "y2": {"datum": 1}}},
    {"mark": {"type": "text", "fontSize": 20, "color": "black"}, "encoding": {"x": {"datum": 7, "type": "quantitative", "axis": null}, "y": {"datum": 0.5, "type": "quantitative", "axis": null}, "text": {"field": "year", "type": "nominal"}}}]},
   {"layer": [
    {"mark": {"type": "area", "fill": "#add8e6", "stroke": "black", "strokeWidth": 1.2}, "encoding": {"x": {"field": "age", "type": "quantitative", "scale": {"domain": [0.16, 13.84], "nice": false, "zero": false}, "axis": null}, "y": {"field": "obs", "type": "quantitative", "scale": {"zero": false, "nice": false, "padding": 7, "range": [142, 26]}, "axis": {"title": null}}}},
    {"mark": {"type": "line", "strokeWidth": 3, "color": "red"}, "encoding": {"x": {"field": "age", "type": "quantitative", "axis": null}, "y": {"field": "pred", "type": "quantitative"}}}]}
  ]}}
]}
],
"config": {
 "font": "Liberation Sans",
 "view": {"stroke": "black", "strokeWidth": 1},
 "axis": {"labelFont": "Liberation Sans", "labelFontSize": 15, "labelColor": "black", "tickColor": "black", "tickSize": 10, "tickWidth": 1, "domain": false, "grid": false, "labelFlush": false, "titleFont": "Liberation Sans", "titleFontSize": 20, "titleFontWeight": "normal", "titleColor": "black"},
 "axisX": {"labelPadding": 5, "labelOverlap": false, "labelAngle": 0},
 "axisY": {"tickCount": 5, "labelAngle": 270, "labelAlign": "center", "labelBaseline": "alphabetic", "labelPadding": 7, "labelOverlap": "parity", "labelSeparation": 4},
 "legend": {"labelFont": "Liberation Sans", "labelFontSize": 20, "labelColor": "black", "symbolType": "stroke", "symbolSize": 3700, "symbolStrokeWidth": 2, "labelOffset": 19}
}
}
